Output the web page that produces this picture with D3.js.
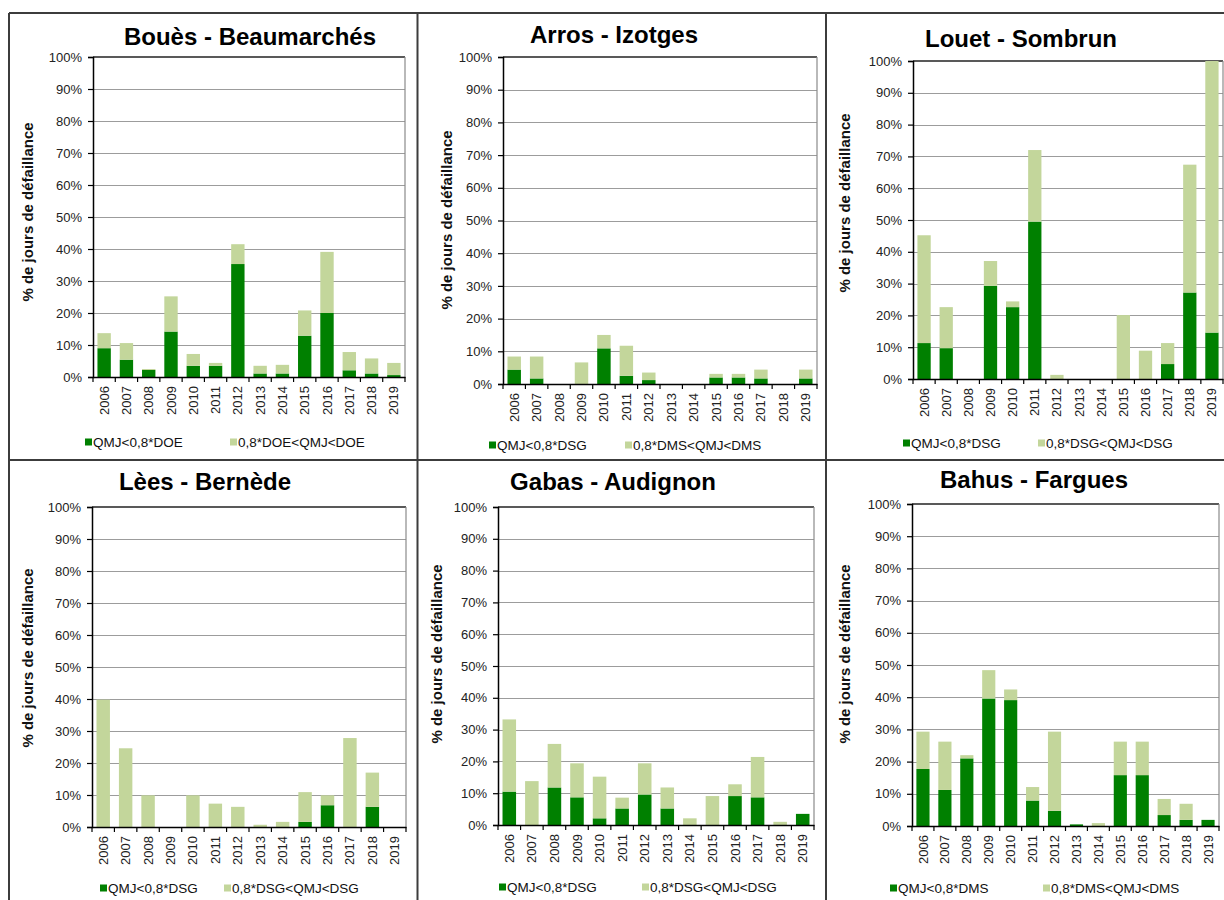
<!DOCTYPE html>
<html>
<head>
<meta charset="utf-8">
<script src="https://cdn.jsdelivr.net/npm/d3@7"></script>
<style>
  html, body { margin: 0; padding: 0; background: #fff; }
  svg { display: block; font-family: "Liberation Sans", Arial, sans-serif; }
</style>
</head>
<body>
<svg id="chart" width="1224" height="900"></svg>
<script>
// ---------- DATA ----------
const years = ["2006","2007","2008","2009","2010","2011","2012","2013","2014","2015","2016","2017","2018","2019"];
const yTicks = [0, 0.1, 0.2, 0.3, 0.4, 0.5, 0.6, 0.7, 0.8, 0.9, 1.0];
const yAxisTitle = "% de jours de défaillance";

const titles = ["Bouès - Beaumarchés", "Arros - Izotges", "Louet - Sombrun",
                "Lèes - Bernède", "Gabas - Audignon", "Bahus - Fargues"];
const darkLabels = ["QMJ<0,8*DOE", "QMJ<0,8*DSG", "QMJ<0,8*DSG",
                    "QMJ<0,8*DSG", "QMJ<0,8*DSG", "QMJ<0,8*DMS"];
const lightLabels = ["0,8*DOE<QMJ<DOE", "0,8*DMS<QMJ<DMS", "0,8*DSG<QMJ<DSG",
                     "0,8*DSG<QMJ<DSG", "0,8*DSG<QMJ<DSG", "0,8*DMS<QMJ<DMS"];

// values in % (dark = lower segment, light = upper stacked segment)
const bouesDark  = [9.0, 5.4, 2.2, 14.2, 3.5, 3.5, 35.3, 1.1, 1.1, 12.9, 20.0, 2.1, 1.1, 0.6];
const bouesLight = [4.7, 5.2, 0.3, 11.0, 3.7, 0.9, 6.2, 2.4, 2.7, 7.9, 19.1, 5.7, 4.7, 3.8];

const arrosDark  = [4.4, 1.7, 0, 0, 10.9, 2.5, 1.2, 0, 0, 2.0, 2.0, 1.7, 0, 1.7];
const arrosLight = [4.0, 6.7, 0, 6.6, 4.1, 9.2, 2.3, 0, 0, 1.1, 1.1, 2.7, 0, 2.7];

const louetDark  = [11.3, 9.7, 0, 29.3, 22.6, 49.5, 0, 0, 0, 0, 0, 4.7, 27.2, 14.6];
const louetLight = [33.9, 12.9, 0, 7.8, 1.8, 22.5, 1.3, 0, 0, 20.1, 8.9, 6.6, 40.2, 85.4];

const leesDark   = [0, 0, 0, 0, 0, 0, 0, 0, 0, 1.6, 6.8, 0, 6.3, 0];
const leesLight  = [39.8, 24.6, 9.9, 0, 9.9, 7.3, 6.3, 0.7, 1.6, 9.3, 3.1, 27.8, 10.7, 0];

const gabasDark  = [10.5, 0, 11.8, 8.7, 2.1, 5.2, 9.6, 5.2, 0, 0, 9.1, 8.7, 0, 3.5];
const gabasLight = [22.7, 13.8, 13.7, 10.7, 13.1, 3.4, 9.8, 6.6, 2.1, 9.1, 3.7, 12.7, 1.0, 0];

const bahusDark  = [17.7, 11.2, 21.0, 39.6, 39.1, 7.9, 4.7, 0.5, 0, 15.8, 15.8, 3.4, 1.9, 1.9];
const bahusLight = [11.6, 15.0, 1.0, 8.8, 3.3, 4.2, 24.6, 0, 0.9, 10.4, 10.4, 5.0, 5.0, 0];

const darkSeries  = [bouesDark, arrosDark, louetDark, leesDark, gabasDark, bahusDark];
const lightSeries = [bouesLight, arrosLight, louetLight, leesLight, gabasLight, bahusLight];

// ---------- LAYOUT ----------
const layout = [
  {L: 93,  R: 405,  T: 57,  B: 377, tx: 250,  ty: 45,  ax: 28,  ay: 212, lgY: 442, dX: 85,  lX: 230},
  {L: 503, R: 817,  T: 57,  B: 384, tx: 614,  ty: 43,  ax: 447, ay: 220, lgY: 445, dX: 489, lX: 625},
  {L: 913, R: 1223, T: 61,  B: 379, tx: 1021, ty: 47,  ax: 845, ay: 203, lgY: 443, dX: 903, lX: 1038},
  {L: 92,  R: 406,  T: 507, B: 827, tx: 205,  ty: 490, ax: 28,  ay: 658, lgY: 888, dX: 100, lX: 224},
  {L: 498, R: 814,  T: 507, B: 825, tx: 613,  ty: 490, ax: 437, ay: 654, lgY: 887, dX: 499, lX: 642},
  {L: 912, R: 1219, T: 504, B: 826, tx: 1034, ty: 488, ax: 845, ay: 654, lgY: 888, dX: 890, lX: 1043}
];

const DARK = "#008000";
const LIGHT = "#c3d69b";

const svg = d3.select("#chart");

// outer frame / dividers
const frame = svg.append("g").attr("stroke", "#3c3c3c").attr("stroke-width", 2).attr("fill", "none");
frame.append("line").attr("x1", 9).attr("x2", 1224).attr("y1", 13).attr("y2", 13);
frame.append("line").attr("x1", 9).attr("x2", 1224).attr("y1", 460).attr("y2", 460);
frame.append("line").attr("x1", 9).attr("x2", 9).attr("y1", 13).attr("y2", 900);
frame.append("line").attr("x1", 417.5).attr("x2", 417.5).attr("y1", 13).attr("y2", 900);
frame.append("line").attr("x1", 826).attr("x2", 826).attr("y1", 13).attr("y2", 900);

layout.forEach((p, i) => {
  const g = svg.append("g");
  const rows = years.map((yr, k) => ({year: yr, dark: darkSeries[i][k] / 100, light: lightSeries[i][k] / 100}));
  const x = d3.scaleBand().domain(years).range([p.L, p.R]).paddingInner(0.4).paddingOuter(0.2);
  const y = d3.scaleLinear().domain([0, 1]).range([p.B, p.T]);

  // gridlines
  g.append("g").selectAll("line").data(yTicks.filter(t => t > 0 && t < 1)).join("line")
    .attr("x1", p.L).attr("x2", p.R)
    .attr("y1", d => Math.round(y(d)) + 0.5).attr("y2", d => Math.round(y(d)) + 0.5)
    .attr("stroke", "#9c9c9c").attr("stroke-width", 1.2);

  // plot frame: top and right
  g.append("line").attr("x1", p.L).attr("x2", p.R).attr("y1", p.T).attr("y2", p.T)
    .attr("stroke", "#222").attr("stroke-width", 1.5);
  g.append("line").attr("x1", p.R).attr("x2", p.R).attr("y1", p.T).attr("y2", p.B)
    .attr("stroke", "#8a8a8a").attr("stroke-width", 1.2);

  // stacked bars
  const stacked = d3.stack().keys(["dark", "light"])(rows);
  const colors = {dark: DARK, light: LIGHT};
  g.append("g").selectAll("g").data(stacked).join("g")
    .attr("fill", d => colors[d.key])
    .selectAll("rect").data(d => d).join("rect")
    .attr("x", d => x(d.data.year))
    .attr("width", x.bandwidth())
    .attr("y", d => y(d[1]))
    .attr("height", d => Math.max(0, y(d[0]) - y(d[1])));

  // y axis
  const yAxis = d3.axisLeft(y).tickValues(yTicks).tickFormat(d3.format(".0%")).tickSize(5).tickPadding(6);
  const ya = g.append("g").attr("transform", `translate(${p.L},0)`).call(yAxis);
  ya.select(".domain").attr("stroke", "#000").attr("stroke-width", 1.5);
  ya.selectAll(".tick line").attr("stroke", "#000").attr("stroke-width", 1.2);
  ya.selectAll("text").attr("font-size", 13).attr("fill", "#222")
    .attr("font-family", "'Liberation Sans', Arial, sans-serif");

  // x axis
  const xAxis = d3.axisBottom(x).tickSize(0).tickPadding(0);
  const xa = g.append("g").attr("transform", `translate(0,${p.B})`).call(xAxis);
  xa.select(".domain").attr("stroke", "#000").attr("stroke-width", 1.5);
  xa.selectAll(".tick text")
    .attr("font-size", 13).attr("fill", "#222")
    .attr("font-family", "'Liberation Sans', Arial, sans-serif")
    .attr("transform", "rotate(-90)")
    .attr("text-anchor", "end")
    .attr("x", -9).attr("y", 0).attr("dy", "0.35em");
  // category boundary ticks
  const bounds = d3.range(years.length + 1).map(k => p.L + k * (p.R - p.L) / years.length);
  g.append("g").selectAll("line").data(bounds).join("line")
    .attr("x1", d => d).attr("x2", d => d)
    .attr("y1", p.B).attr("y2", p.B + 5)
    .attr("stroke", "#000").attr("stroke-width", 1.2);

  // title
  g.append("text").attr("x", p.tx).attr("y", p.ty).attr("text-anchor", "middle")
    .attr("font-size", 24).attr("font-weight", "bold").attr("fill", "#000")
    .text(titles[i]);

  // y title
  g.append("text").attr("transform", `translate(${p.ax},${p.ay}) rotate(-90)`)
    .attr("text-anchor", "middle").attr("dy", "0.35em")
    .attr("font-size", 15).attr("font-weight", "bold").attr("fill", "#111")
    .text(yAxisTitle);

  // legend
  const lg = g.append("g");
  [[p.dX, DARK, darkLabels[i]], [p.lX, LIGHT, lightLabels[i]]].forEach(([lx, c, t]) => {
    lg.append("rect").attr("x", lx).attr("y", p.lgY - 3.5).attr("width", 7).attr("height", 7).attr("fill", c);
    lg.append("text").attr("x", lx + 8).attr("y", p.lgY).attr("dy", "0.35em")
      .attr("font-size", 13.5).attr("fill", "#111").text(t);
  });
});
</script>
</body>
</html>
